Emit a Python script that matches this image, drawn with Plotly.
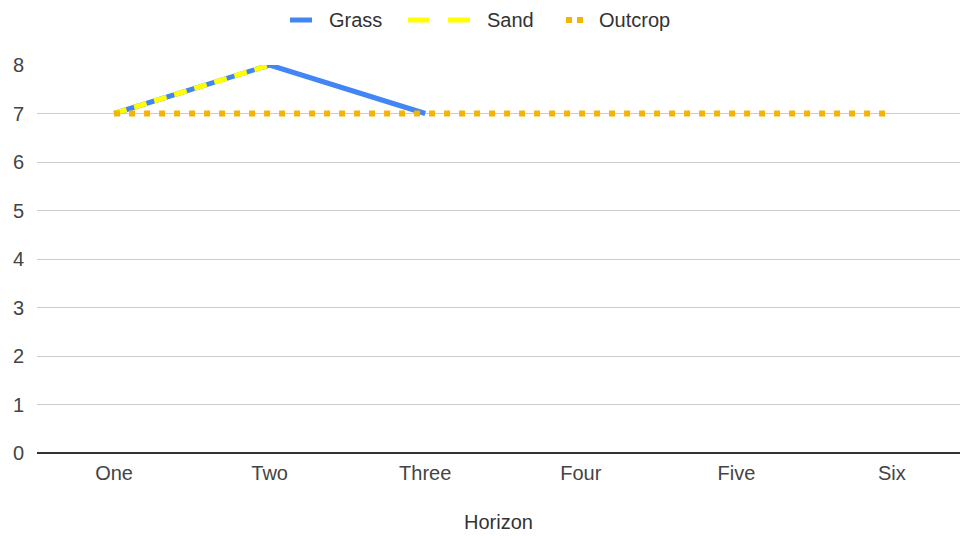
import plotly.graph_objects as go

# Horizon categories and series values
horizons = ["One", "Two", "Three", "Four", "Five", "Six"]
series_names = ["Grass", "Sand", "Outcrop"]
grass = [7, 8, 7, None, None, None]
sand = [7, 8, None, None, None, None]
outcrop = [7, 7, 7, 7, 7, 7]

colors = {"Grass": "#4285F4", "Sand": "#FFFF00", "Outcrop": "#F4B400"}

fig = go.Figure()
fig.add_trace(go.Scatter(
    x=horizons, y=grass, name="Grass", mode="lines",
    line=dict(color=colors["Grass"], width=5), connectgaps=False,
))
fig.add_trace(go.Scatter(
    x=horizons, y=sand, name="Sand", mode="lines",
    line=dict(color=colors["Sand"], width=5, dash="13px,8px"),
))
fig.add_trace(go.Scatter(
    x=horizons, y=outcrop, name="Outcrop", mode="lines",
    line=dict(color=colors["Outcrop"], width=6, dash="6px,9px"),
))

# Legend row drawn above the plot: swatch segments then the series label
W, H = 960, 536
ML, MR, MT, MB = 37, 0, 65, 83
pw, ph = W - ML - MR, H - MT - MB


def px_x(v):
    return (v - ML) / pw


def px_y(v):
    return 1 + (MT - v) / ph


legend_y = 20
swatches = {
    "Grass": [(290, 312)],
    "Sand": [(408, 429), (448, 470)],
    "Outcrop": [(566, 572), (577, 583)],
}
label_x = {"Grass": 327, "Sand": 485, "Outcrop": 597}
shapes = []
annotations = []
for name in series_names:
    w = 6 if name == "Outcrop" else 5
    for a, b in swatches[name]:
        shapes.append(dict(
            type="line", xref="paper", yref="paper",
            x0=px_x(a), x1=px_x(b), y0=px_y(legend_y), y1=px_y(legend_y),
            line=dict(color=colors[name], width=w),
        ))
    annotations.append(dict(
        text=name, xref="paper", yref="paper", x=px_x(label_x[name]),
        y=px_y(legend_y), xanchor="left", yanchor="middle", showarrow=False,
        font=dict(size=20, color="#333333"),
    ))

font = "Liberation Sans, Arial, sans-serif"
fig.update_layout(
    width=W, height=H,
    margin=dict(l=ML, r=MR, t=MT, b=MB),
    paper_bgcolor="white", plot_bgcolor="white",
    font=dict(family=font, size=20, color="#444444"),
    showlegend=False,
    shapes=shapes,
    annotations=annotations,
    xaxis=dict(
        type="category", range=[-0.4955, 5.4376],
        showgrid=False, showline=False, zeroline=False,
        ticks="", ticklabelstandoff=6,
        tickfont=dict(size=20, color="#444444"),
        title=dict(text="Horizon", font=dict(size=20, color="#333333"), standoff=31),
        fixedrange=True,
    ),
    yaxis=dict(
        range=[0, 8], dtick=1, showgrid=True, gridcolor="#cccccc", gridwidth=1,
        zeroline=True, zerolinecolor="#333333", zerolinewidth=1.5,
        showline=False, ticks="", ticklabelstandoff=12,
        tickfont=dict(size=20, color="#444444"),
    ),
)

fig.write_html("out.html")
